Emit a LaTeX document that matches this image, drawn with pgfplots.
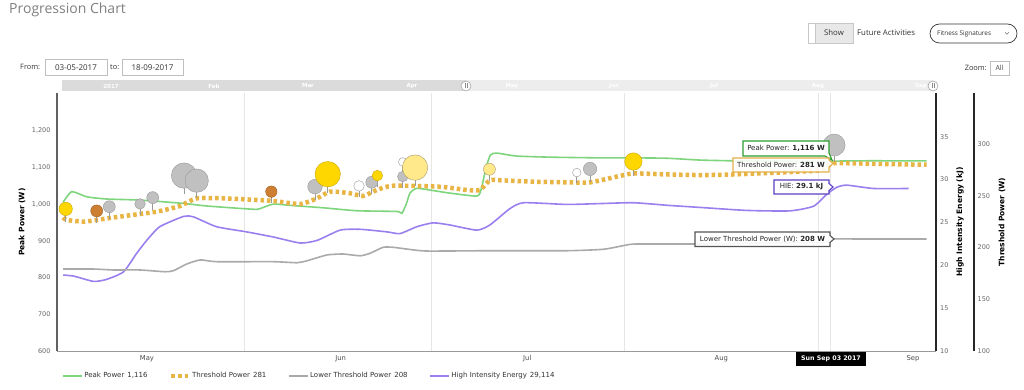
\documentclass[border=0pt]{standalone}
\usepackage{pgfplots}
\pgfplotsset{compat=1.18}
\usepackage{pgfplotstable}
\usepackage{fontspec}
\setmainfont{Open Sans}
\newfontfamily\dv{DejaVu Sans}
\definecolor{peak}{HTML}{7ED57E}
\definecolor{thr}{HTML}{E8B443}
\definecolor{lthr}{HTML}{AAAAAA}
\definecolor{hie}{HTML}{9A80EE}
\definecolor{tickc}{HTML}{666666}
\definecolor{gridc}{HTML}{E6E6E6}
\definecolor{gold}{HTML}{FFD700}
\definecolor{goldd}{HTML}{C9A800}
\definecolor{pale}{HTML}{FFE98A}
\definecolor{paled}{HTML}{A89A6A}
\definecolor{bronze}{HTML}{CD7F32}
\definecolor{bronzed}{HTML}{9E5E22}
\definecolor{bgray}{HTML}{C0C0C0}
\definecolor{bgrayd}{HTML}{999999}
\definecolor{ttgreen}{HTML}{2E9E2E}
\definecolor{ttorange}{HTML}{E3B04B}
\definecolor{ttpurple}{HTML}{5A3FC4}
\definecolor{ttgray}{HTML}{555555}

\pgfplotsset{
  /pgfplots/thr legend/.style={
    legend image code/.code={\draw[thr, line width=4.5pt, dash pattern=on 3.5pt off 3.25pt] (0pt,0pt) -- (17pt,0pt);}
  },
  base/.style={scale only axis, height=258pt, at={(57pt,-351pt)}, anchor=south west,
    major tick length=0pt, clip=false},
  stem/.style={forget plot, only marks, mark=none,
    error bars/.cd, y dir=minus, y explicit, error mark=none,
    error bar style={draw=black!40, line width=0.6pt}},
  bubble/.style 2 args={forget plot, scatter, only marks, mark=*,
    scatter/use mapped color={draw=#1, fill=#2},
    visualization depends on={\thisrow{r}\as\rad},
    scatter/@pre marker code/.append style={/tikz/mark size=\rad pt, /tikz/line width=0.6pt}}
}

\pgfplotstableread{
d v
2.0 1005
3.4 1034
5.8 1020
9.0 1014
14.3 1011
21.3 1002
25.0 995
32.5 986
33.6 988
35.7 1000
38.9 996
43.7 990
49.1 982
55.5 980
56.3 975
57.0 1000
57.6 1030
58.7 1043
61.3 1037
64.0 1030
68.3 1022
69.0 1040
69.8 1100
70.5 1134
71.5 1139
74.7 1131
80.0 1128
88.1 1126
93.4 1126
98.8 1125
104.1 1120
109.4 1118
116.9 1117
123.3 1116
125.1 1117
130.0 1118
136.0 1118
140.4 1118
}\peaktab

\pgfplotstableread{
d v
2.0 229
2.6 226.6
5.3 225
7.4 226.6
10.1 229
14.3 232.4
17.0 234.6
20.7 240
23.4 247.5
27.7 247.5
33.0 246
35.7 245
40.0 242
42.7 247.5
44.8 254
48.0 252.4
50.1 249.8
52.3 255.6
54.9 259.7
62.4 258.7
66.7 255.6
68.8 255.6
70.4 265
72.0 265
77.3 263.6
82.7 263
86.5 263
90.7 268.4
93.4 271.6
98.8 270.6
104.1 270
109.0 270.5
116.9 272.5
123.3 274.5
124.6 279
125.5 281.4
128.0 281.4
135.0 280.5
140.4 280
}\thrtab

\pgfplotstableread{
d v
2.0 179.2
6.9 179.2
10.1 178.3
14.3 178.3
18.3 176.6
19.7 177.6
21.8 184
24.0 188
26.6 186.3
35.7 186.3
39.5 185.3
41.1 187.2
44.3 192.8
46.9 193.7
49.6 192
51.2 194.4
53.3 200.2
54.9 200.2
57.1 198.5
60.3 196.6
70.4 196.9
82.7 196.9
88.6 198.3
92.3 202.4
93.9 203.4
103.0 203.4
115.0 204.5
124.3 205
125.3 208.2
130.3 208.2
140.4 208.2
}\lowtab

\pgfplotstableread{
d v
2.0 18.86
3.7 18.74
6.9 18.12
9.0 18.36
11.7 19.24
13.8 21.4
15.4 22.9
17.5 24.5
21.3 25.7
22.9 25.65
26.6 24.5
31.4 23.9
35.7 23.3
40.0 22.6
42.7 22.9
46.4 24.1
49.6 24.2
53.9 23.9
56.0 23.7
58.7 24.5
61.3 24.95
64.0 24.7
68.3 24.1
70.4 24.7
73.6 26.6
75.8 27.3
82.7 27.1
88.1 27.2
93.4 27.3
98.8 27.0
104.1 26.75
111.6 26.4
118.5 26.35
122.3 26.9
124.4 28.3
126.0 29.1
127.6 29.35
131.9 28.96
137.5 28.96
}\hietab

% bubbles: d = day (0 = 1 May), v = value, r = radius (pt), s = stem length
\pgfplotstableread{
d v r s
9.41 993 6 32.7
14.33 1000.6 5.3 30.8
16.37 1017.7 6 32.7
21.39 1077.7 12.7 50.9
23.42 1064 11.7 48.2
42.38 1047.7 7.3 36.2
51.47 1059.7 6 32.7
56.44 1075 5.3 30.8
86.46 1096 6.7 34.6
125.57 1161 11 46.3
}\graytab
\pgfplotstableread{
d v r s
49.43 1049.6 5.3 30.8
56.44 1115 4.3 28.1
84.33 1086 4.3 28.1
}\whitetab
\pgfplotstableread{
d v r s
7.39 981.5 6 32.7
35.38 1034 5.7 31.9
}\bronzetab
\pgfplotstableread{
d v r s
2.42 987 6.7 34.6
44.42 1081.5 12.7 50.9
52.37 1077.7 5.3 30.8
93.4 1116 8.7 40.0
}\goldtab
\pgfplotstableread{
d v r s
58.41 1099.5 12.7 50.9
70.33 1095 6 32.7
}\paletab

\newcommand{\tickfont}{\dv\fontsize{6.5}{7.5}\selectfont}
\newcommand{\labfont}{\dv\bfseries\fontsize{7.5}{9}\selectfont}

\begin{document}
\begin{tikzpicture}
\fill[white] (0pt,0pt) rectangle (1024pt,-390pt);
\path[use as bounding box] (0pt,0pt) rectangle (1024pt,-390pt);

% ---------- axis 1: Peak Power (left) ----------
\begin{axis}[base, width=879pt,
  xmin=1.03, xmax=141.9, ymin=600, ymax=1302.7,
  axis x line*=bottom, axis y line*=left,
  x axis line style={draw=black!40, line width=1pt},
  y axis line style={draw=black!62, line width=1.8pt},
  xtick={31,61,92,123,125}, xticklabels={,,,,},
  xmajorgrids, grid style={draw=gridc, line width=0.8pt},
  extra x ticks={15.45,46.5,76.4,107.5,138.2},
  extra x tick labels={May,Jun,Jul,Aug,Sep},
  extra x tick style={grid=none, xticklabel style={font=\dv\fontsize{6.8}{8}\selectfont, text=black!70, yshift=-1pt}},
  ytick={600,700,800,900,1000,1100,1200},
  yticklabel style={font=\tickfont, text=tickc, inner sep=0pt, xshift=-6.3pt},
  /pgf/number format/1000 sep={,},
  /pgf/number format/assume math mode=true,
  ylabel={Peak Power (W)},
  ylabel style={at={(axis description cs:-0.0398,0.5)}, anchor=center, font=\labfont},
  legend columns=4,
  legend cell align=left,
  legend image code/.code={\draw[#1] (0pt,0pt) -- (19pt,0pt);},
  legend style={at={(axis description cs:0.0057,-0.0969)}, anchor=west, draw=none, fill=none,
    inner sep=0pt, font=\dv\fontsize{7}{8}\selectfont, text=black!80,
    nodes={inner sep=1.6pt},
    /tikz/every even column/.append style={column sep=20pt}},
]
\addplot[peak, line width=1.6pt, smooth, tension=0.35, mark=none] table[x=d,y=v]{\peaktab};
\addlegendentry{Peak Power\hspace{3pt}1,116}
\addlegendimage{thr legend}
\addlegendentry{Threshold Power\hspace{3pt}281}
\addlegendimage{lthr, line width=1.6pt}
\addlegendentry{Lower Threshold Power\hspace{3pt}208}
\addlegendimage{hie, line width=1.6pt}
\addlegendentry{High Intensity Energy\hspace{3pt}29,114}
\end{axis}

% ---------- axis 2: High Intensity Energy (right, inner) ----------
\begin{axis}[base, width=879pt,
  xmin=1.03, xmax=141.9, ymin=10, ymax=40.1,
  axis y line*=right, axis x line=none, xtick=\empty,
  y axis line style={draw=black!85, line width=1.4pt},
  ytick={10,15,20,25,30,35},
  yticklabel style={font=\tickfont, text=tickc, inner sep=0pt, xshift=4pt},
  /pgf/number format/assume math mode=true,
  ylabel={High Intensity Energy (kJ)},
  ylabel style={at={(axis description cs:1.0273,0.5)}, anchor=center, font=\labfont},
]
\addplot[hie, line width=1.6pt, smooth, tension=0.35, mark=none] table[x=d,y=v]{\hietab};
\end{axis}

% ---------- axis 3: Threshold Power (right, outer) ----------
\begin{axis}[base, width=917pt,
  xmin=1.03, xmax=148.0, ymin=100, ymax=349.3,
  axis y line*=right, axis x line=none, xtick=\empty,
  y axis line style={draw=black!85, line width=1.4pt},
  ytick={100,150,200,250,300},
  yticklabel style={font=\tickfont, text=tickc, inner sep=0pt, xshift=3.5pt},
  /pgf/number format/assume math mode=true,
  ylabel={Threshold Power (W)},
  ylabel style={at={(axis description cs:1.0305,0.5)}, anchor=center, font=\labfont},
]
\addplot[lthr, line width=1.6pt, smooth, tension=0.35, mark=none] table[x=d,y=v]{\lowtab};
\addplot[thr, line width=4.5pt, dash pattern=on 3.5pt off 3pt, smooth, tension=0.35, mark=none] table[x=d,y=v]{\thrtab};
\end{axis}

% ---------- axis 4: activity bubbles ----------
\begin{axis}[base, width=879pt, hide axis,
  xmin=1.03, xmax=141.9, ymin=600, ymax=1302.7]
\addplot[stem] table[x=d, y=v, y error=s]{\graytab};
\addplot[stem] table[x=d, y=v, y error=s]{\whitetab};
\addplot[stem] table[x=d, y=v, y error=s]{\bronzetab};
\addplot[stem] table[x=d, y=v, y error=s]{\goldtab};
\addplot[stem] table[x=d, y=v, y error=s]{\paletab};
\addplot[bubble={bgrayd}{bgray}] table[x=d,y=v]{\graytab};
\addplot[bubble={bgrayd}{white}] table[x=d,y=v]{\whitetab};
\addplot[bubble={bronzed}{bronze}] table[x=d,y=v]{\bronzetab};
\addplot[bubble={goldd}{gold}] table[x=d,y=v]{\goldtab};
\addplot[bubble={paled}{pale}] table[x=d,y=v]{\paletab};
\end{axis}

% ---------- page furniture ----------
\begin{scope}[x=1pt, y=-1pt]
% title
\node[anchor=base west, inner sep=0, text=black!50, font=\fontsize{14}{16}\selectfont] at (9,13.5) {Progression Chart};
% top right controls
\draw[black!22, fill=black!9, line width=0.6pt] (815,23) rectangle (853,43);
\draw[black!22, fill=white, line width=0.6pt] (808,23) rectangle (815,43);
\node[text=black!80, font=\fontsize{7.8}{9}\selectfont] at (834,33) {Show};
\node[anchor=west, inner sep=0, text=black!80, font=\fontsize{7.8}{9}\selectfont] at (857,33) {Future Activities};
\draw[black!80, line width=0.7pt, rounded corners=9.5pt] (930,24) rectangle (1017,43);
\node[anchor=west, inner sep=0, text=black!80, font=\fontsize{6.4}{8}\selectfont] at (937,33.5) {Fitness Signatures};
\draw[black!55, line width=0.45pt] (1005,32.3) -- (1007,34.3) -- (1009,32.3);
% from / to
\node[anchor=base west, inner sep=0, text=black!80, font=\fontsize{7.4}{9}\selectfont] at (20,70) {From:};
\draw[black!25, line width=0.6pt] (45,59.5) rectangle (107,75);
\node[text=black!80, font=\fontsize{8}{9}\selectfont] at (76,67.3) {03-05-2017};
\node[anchor=base west, inner sep=0, text=black!80, font=\fontsize{7.4}{9}\selectfont] at (110,70) {to:};
\draw[black!25, line width=0.6pt] (122,59.5) rectangle (183,75);
\node[text=black!80, font=\fontsize{8}{9}\selectfont] at (152.5,67.3) {18-09-2017};
% zoom
\node[anchor=base east, inner sep=0, text=black!80, font=\fontsize{7.4}{9}\selectfont] at (987,71) {Zoom:};
\draw[black!25, line width=0.6pt] (990,61) rectangle (1009,75);
\node[text=black!70, font=\fontsize{7}{8}\selectfont] at (999.5,68) {All};
% navigator
\fill[black!14] (62,80.5) rectangle (466,91.5);
\fill[black!7] (466,80.5) rectangle (933,91.5);
\foreach \xx/\tt in {111/2017,214/Feb,308/Mar,412/Apr,512/May,614/Jun,714/Jul,818/Aug,921/Sep}
  \node[text=white, font=\dv\bfseries\fontsize{5.5}{6}\selectfont] at (\xx,86) {\tt};
\foreach \xx in {466,933}{
  \draw[black!35, fill=white, line width=0.6pt] (\xx,86) circle (5);
  \draw[black!45, line width=0.5pt] (\xx-1.2,83.5) -- (\xx-1.2,88.5) (\xx+1.2,83.5) -- (\xx+1.2,88.5);
}
% tooltips
\begin{scope}[font=\dv\fontsize{7}{8}\selectfont, line width=1.1pt]
\draw[ttgreen, fill=white, fill opacity=0.9] (743,141) -- (829,141) -- (829,153) -- (832,160) -- (825,156) -- (743,156) -- cycle;
\node[text=black!85] at (786,148.5) {Peak Power: \textbf{1,116 W}};
\draw[ttorange, fill=white, fill opacity=0.9] (733,158) -- (829,158) -- (829,160) -- (833,163.5) -- (829,167) -- (829,172) -- (733,172) -- cycle;
\node[text=black!85] at (781,165) {Threshold Power: \textbf{281 W}};
\draw[ttpurple, fill=white, fill opacity=0.9] (774,180) -- (829,180) -- (829,183.5) -- (833,187) -- (829,190.5) -- (829,194) -- (774,194) -- cycle;
\node[text=black!85] at (801.5,187) {HIE: \textbf{29.1 kJ}};
\draw[ttgray, fill=white, fill opacity=0.9] (695,232) -- (830,232) -- (830,235.5) -- (834,239) -- (830,242.5) -- (830,246.5) -- (695,246.5) -- cycle;
\node[text=black!85] at (762.5,239.3) {Lower Threshold Power (W): \textbf{208 W}};
\end{scope}
\fill[black] (796,352) rectangle (866,366);
\node[text=white, font=\dv\bfseries\fontsize{6.3}{7}\selectfont] at (831,359) {Sun Sep 03 2017};
\end{scope}
\end{tikzpicture}
\end{document}
